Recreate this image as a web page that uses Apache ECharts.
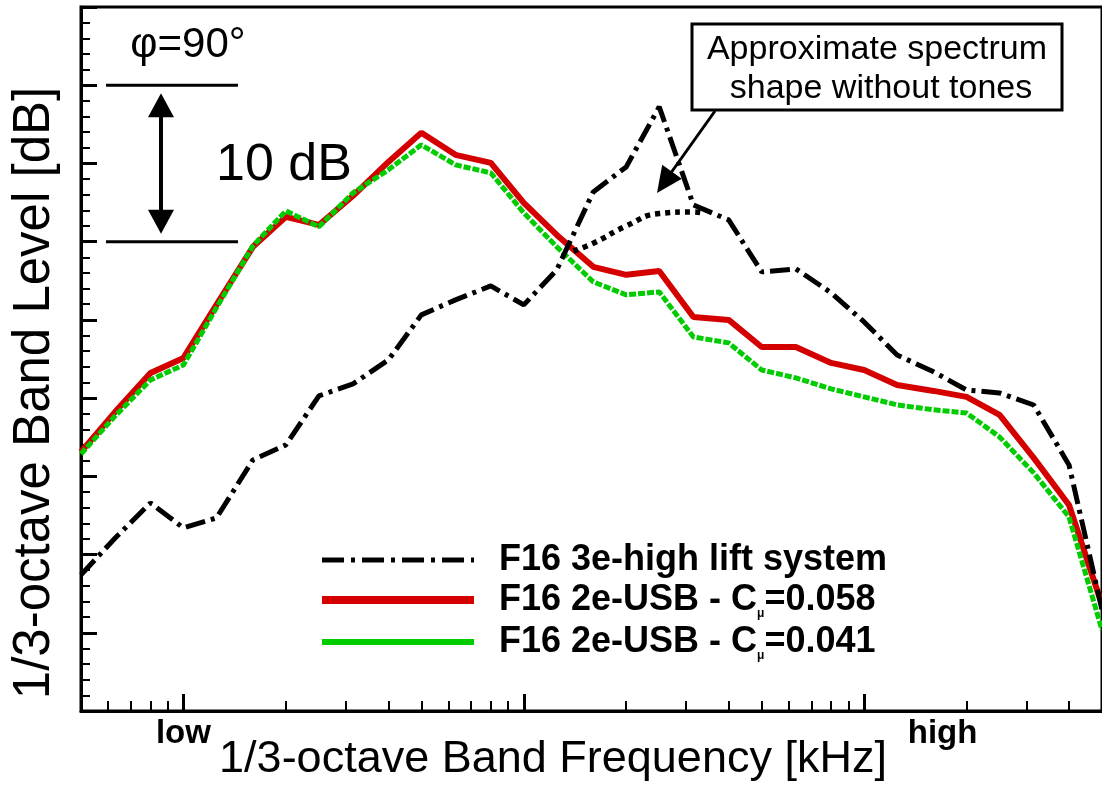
<!DOCTYPE html>
<html>
<head>
<meta charset="utf-8">
<script src="https://cdn.jsdelivr.net/npm/echarts@6/dist/echarts.min.js"></script>
<style>
  html, body { margin: 0; padding: 0; background: #fff; }
  #chart { width: 1102px; height: 785px; }
</style>
</head>
<body>
<div id="chart"></div>
<script>
// 1/3-octave band centre frequencies [kHz]
const bandFreqs = [0.05, 0.063, 0.08, 0.1, 0.125, 0.16, 0.2, 0.25, 0.315, 0.4, 0.5,
  0.63, 0.8, 1, 1.25, 1.6, 2, 2.5, 3.15, 4, 5, 6.3, 8, 10, 12.5, 16, 20, 25, 31.5, 40, 50];

// Band levels [dB] (relative scale)
const levelHighLift = [8.7, 11.06, 13.3, 11.7, 12.34, 16.05, 17.01, 20.14, 20.91, 22.44, 25.32,
  26.28, 27.17, 25.96, 28.2, 33.18, 34.78, 38.62, 32.35, 31.39, 28.07, 28.26, 26.73, 24.87,
  22.76, 21.68, 20.52, 20.33, 19.56, 15.73, 6.46];
const levelUsb058 = [16.56, 19.12, 21.61, 22.57, 25.96, 29.67, 31.59, 31.07, 32.93, 35.1, 36.96,
  35.55, 35.04, 32.48, 30.43, 28.39, 27.88, 28.13, 25.19, 25.0, 23.27, 23.27, 22.25, 21.8,
  20.84, 20.46, 20.08, 18.93, 16.18, 13.17, 6.78];
const levelUsb041 = [16.43, 18.86, 21.16, 22.12, 25.77, 29.73, 31.97, 30.95, 33.12, 34.59, 36.19,
  34.91, 34.4, 31.84, 29.67, 27.43, 26.6, 26.79, 23.91, 23.53, 21.8, 21.29, 20.59, 20.08,
  19.57, 19.25, 19.05, 17.52, 15.22, 12.4, 5.18];

// Broadband shape of the high-lift spectrum with the tones removed
const approxFreqs = [1.4, 1.6, 2, 2.5, 3.15, 3.4];
const approxLevels = [29.4, 29.9, 31.0, 31.8, 31.9, 31.8];

// Axis ticks and labels
const freqRange = [0.05, 50];
const majorFreqTicks = [0.1, 1, 10];
const minorFreqTicks = [0.06, 0.07, 0.08, 0.09, 0.2, 0.3, 0.4, 0.5, 0.6, 0.7, 0.8, 0.9,
  2, 3, 4, 5, 6, 7, 8, 9, 20, 30, 40];
const freqTickValues = [0.1, 17];
const freqTickTexts = ['low', 'high'];
const levelRange = [0, 45];
const levelStep = 5;

// 10 dB reference bracket
const bracketLevels = [30, 40];

const seriesNames = ['F16 3e-high lift system', 'F16 2e-USB - C\u03bc=0.058', 'F16 2e-USB - C\u03bc=0.041'];

const FONT = "'Liberation Sans', Arial, Helvetica, sans-serif";
const pairs = (xs, ys) => xs.map((x, i) => [x, ys[i]]);

const styleHighLift = { color: '#000', width: 5, type: [20, 6, 4, 6] };
const styleUsb058 = { color: '#d40000', width: 6 };
const styleUsb041 = { color: '#00cc00', width: 5, type: [7, 2] };

const chart = echarts.init(document.getElementById('chart'), null, { renderer: 'canvas' });

const baseX = {
  type: 'log', logBase: 10, min: freqRange[0], max: freqRange[1],
  gridIndex: 0, position: 'bottom', splitLine: { show: false }, minorTick: { show: false }
};

chart.setOption({
  animation: false,
  backgroundColor: '#fff',
  grid: { left: 81, top: 7, width: 1026, height: 704, show: true, borderColor: '#000', borderWidth: 3 },
  xAxis: [
    Object.assign({}, baseX, {
      axisLine: { show: true, lineStyle: { color: '#000', width: 3 } },
      axisTick: { show: true, inside: true, length: 17, lineStyle: { color: '#000', width: 3 }, customValues: majorFreqTicks },
      axisLabel: {
        show: true, customValues: freqTickValues, margin: 6,
        fontFamily: FONT, fontWeight: 'bold', fontSize: 33, color: '#000',
        formatter: (v) => {
          let best = 0;
          freqTickValues.forEach((f, i) => {
            if (Math.abs(Math.log10(f) - Math.log10(v)) < Math.abs(Math.log10(freqTickValues[best]) - Math.log10(v))) best = i;
          });
          return freqTickTexts[best];
        }
      }
    }),
    Object.assign({}, baseX, {
      axisLine: { show: false },
      axisTick: { show: true, inside: true, length: 10, lineStyle: { color: '#000', width: 2 }, customValues: minorFreqTicks },
      axisLabel: { show: false }
    })
  ],
  yAxis: {
    type: 'value', min: levelRange[0], max: levelRange[1], interval: levelStep,
    axisLine: { show: true, lineStyle: { color: '#000', width: 3 } },
    axisTick: { show: true, inside: true, length: 16, lineStyle: { color: '#000', width: 3 } },
    minorTick: { show: true, splitNumber: 5, length: 9, lineStyle: { color: '#000', width: 2 } },
    axisLabel: { show: false },
    splitLine: { show: false }
  },
  legend: {
    orient: 'vertical', left: 318, top: 542, padding: 0,
    itemWidth: 152, itemHeight: 35, itemGap: 4, selectedMode: false,
    itemStyle: { opacity: 0 },
    data: [
      { name: seriesNames[0], lineStyle: { width: 5, type: [22, 7, 4, 7] } },
      { name: seriesNames[1], lineStyle: { width: 8, type: 'solid' } },
      { name: seriesNames[2], lineStyle: { width: 6, type: 'solid' } }
    ],
    formatter: (name) => name.replace('C\u03bc', 'C{sub|\u03bc}'),
    textStyle: {
      fontFamily: FONT, fontWeight: 'bold', fontSize: 36, color: '#000', padding: [0, 0, 0, 20],
      rich: { sub: { fontFamily: FONT, fontWeight: 'bold', fontSize: 12, color: '#000', padding: [28, 0, 0, 0] } }
    }
  },
  series: [
    {
      name: seriesNames[1], type: 'line', data: pairs(bandFreqs, levelUsb058),
      symbol: 'none', z: 2, lineStyle: styleUsb058, itemStyle: { color: styleUsb058.color }
    },
    {
      name: seriesNames[2], type: 'line', data: pairs(bandFreqs, levelUsb041),
      symbol: 'none', z: 3, lineStyle: styleUsb041, itemStyle: { color: styleUsb041.color }
    },
    {
      name: seriesNames[0], type: 'line', data: pairs(bandFreqs, levelHighLift),
      symbol: 'none', z: 4, lineStyle: styleHighLift, itemStyle: { color: '#000' }
    },
    {
      name: 'approx', type: 'line', data: pairs(approxFreqs, approxLevels), smooth: true,
      symbol: 'none', z: 4, lineStyle: { color: '#000', width: 5.5, type: [5, 5] }, itemStyle: { color: '#000' }
    }
  ]
});

// Annotations: 10 dB bracket, incidence angle, callout box and axis titles
const yHi = chart.convertToPixel({ yAxisIndex: 0 }, bracketLevels[1]);
const yLo = chart.convertToPixel({ yAxisIndex: 0 }, bracketLevels[0]);
const bx = 161;

function arrowHead(tipX, tipY, fromX, fromY, len, half) {
  const dx = tipX - fromX, dy = tipY - fromY, L = Math.hypot(dx, dy);
  const ux = dx / L, uy = dy / L, px = -uy, py = ux;
  const cx = tipX - ux * len, cy = tipY - uy * len;
  return {
    type: 'polygon', z: 10,
    shape: { points: [[tipX, tipY], [cx + px * half, cy + py * half], [cx - px * half, cy - py * half]] },
    style: { fill: '#000' }
  };
}

const textEl = (text, x, y, size, extra) => Object.assign({
  type: 'text', x: x, y: y, z: 10,
  style: {
    text: text, fontFamily: FONT, fontSize: size, fill: '#000',
    textAlign: 'center', align: 'center', textVerticalAlign: 'middle', verticalAlign: 'middle'
  }
}, extra || {});

chart.setOption({
  graphic: [
    { type: 'line', z: 10, shape: { x1: 106, y1: yHi, x2: 238, y2: yHi }, style: { stroke: '#000', lineWidth: 3 } },
    { type: 'line', z: 10, shape: { x1: 106, y1: yLo, x2: 238, y2: yLo }, style: { stroke: '#000', lineWidth: 3 } },
    { type: 'line', z: 10, shape: { x1: bx, y1: yHi + 28, x2: bx, y2: yLo - 28 }, style: { stroke: '#000', lineWidth: 4 } },
    arrowHead(bx, yHi + 8, bx, yLo, 24, 13),
    arrowHead(bx, yLo - 8, bx, yHi, 24, 13),
    textEl('\u03c6=90\u00b0', 188, 45, 42),
    textEl('10 dB', 284, 166, 52),
    { type: 'rect', z: 10, shape: { x: 692, y: 24, width: 370, height: 86 }, style: { fill: '#fff', stroke: '#000', lineWidth: 3 } },
    textEl('Approximate spectrum', 877, 50, 34, { z: 11 }),
    textEl('shape without tones', 881, 89, 34, { z: 11 }),
    { type: 'line', z: 10, shape: { x1: 715, y1: 111, x2: 668, y2: 177 }, style: { stroke: '#000', lineWidth: 3 } },
    arrowHead(657, 193, 715, 111, 26, 12),
    textEl('1/3-octave Band Frequency [kHz]', 553, 760, 45),
    textEl('1/3-octave Band Level [dB]', 35, 393, 51, { rotation: Math.PI / 2 })
  ]
});
</script>
</body>
</html>
